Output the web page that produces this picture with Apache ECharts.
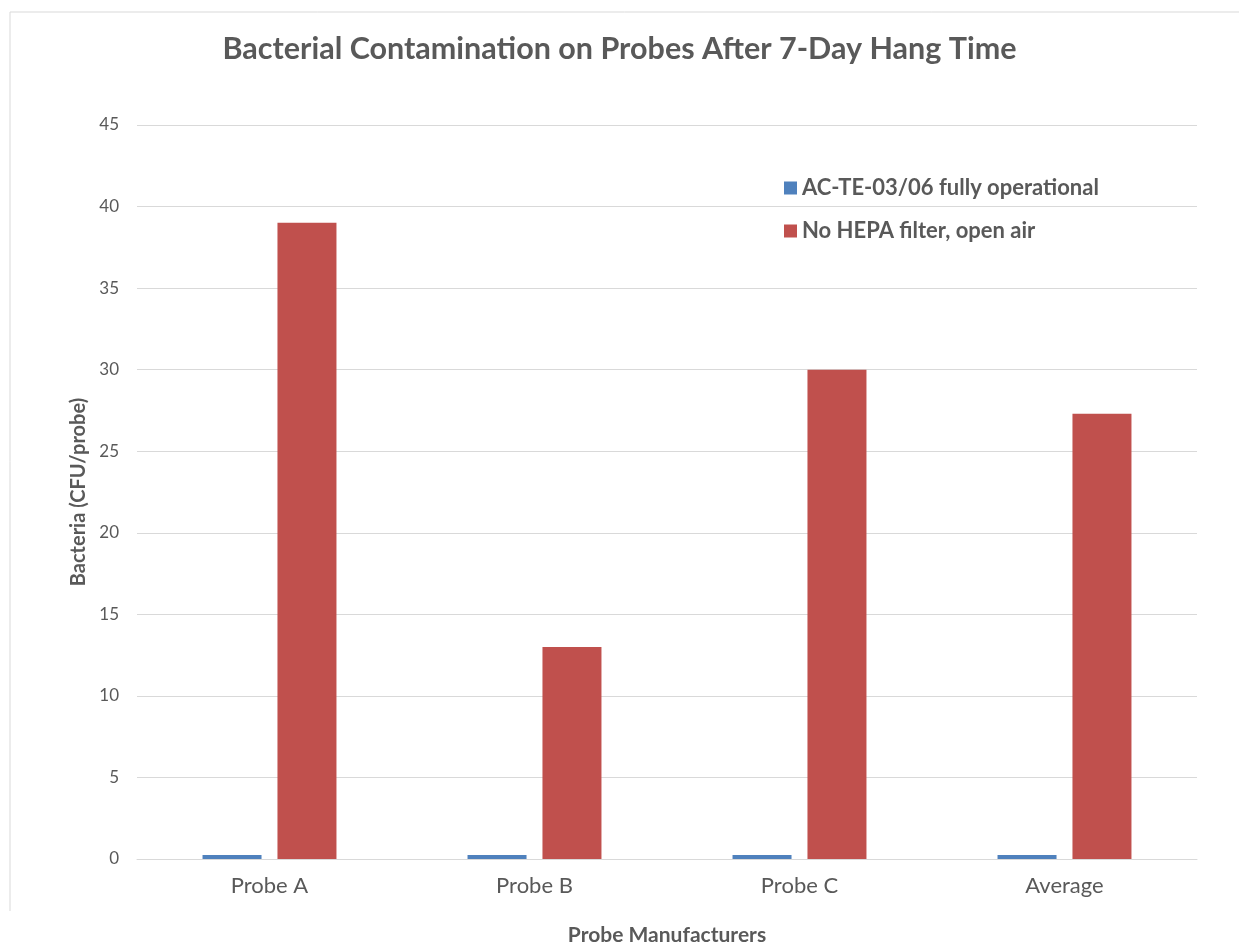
<!DOCTYPE html>
<html>
<head>
<meta charset="utf-8">
<script src="https://cdn.jsdelivr.net/npm/echarts@6/dist/echarts.min.js"></script>
<style>
  html, body { margin: 0; padding: 0; background: #fff; }
  #chart { width: 1239px; height: 945px; }
</style>
</head>
<body>
<div id="chart"></div>
<script>
// Data
const categories = ['Probe A', 'Probe B', 'Probe C', 'Average'];
const seriesNames = ['AC-TE-03/06 fully operational', 'No HEPA filter, open air'];
const operational = [0.25, 0.25, 0.25, 0.25];
const openAir = [39, 13, 30, 27.3];

const ink = '#595959';
const font = 'Lato, "Open Sans", sans-serif';

const chart = echarts.init(document.getElementById('chart'), null, { renderer: 'canvas' });

chart.setOption({
  animation: false,
  backgroundColor: '#fff',
  title: {
    text: 'Bacterial Contamination on Probes After 7-Day Hang Time',
    left: 'center', top: 29,
    textStyle: { color: ink, fontFamily: font, fontSize: 30.5, fontWeight: 'bold' },
  },
  legend: {
    orient: 'vertical',
    left: 779, top: 172,
    itemWidth: 13, itemHeight: 13, itemGap: 21,
    icon: 'rect',
    textStyle: { color: ink, fontFamily: font, fontSize: 22, fontWeight: 'bold' },
    data: seriesNames,
  },
  grid: { left: 137, width: 1060, top: 125, height: 734, outerBoundsMode: 'none' },
  xAxis: {
    type: 'category',
    data: categories,
    name: 'Probe Manufacturers',
    nameLocation: 'middle',
    nameGap: 66,
    nameTextStyle: { color: ink, fontFamily: font, fontSize: 21, fontWeight: 'bold' },
    axisLine: { lineStyle: { color: '#d9d9d9' } },
    axisTick: { show: false },
    axisLabel: { color: ink, fontFamily: font, fontSize: 22, margin: 16 },
  },
  yAxis: {
    type: 'value',
    min: 0, max: 45, interval: 5,
    name: 'Bacteria (CFU/probe)',
    nameLocation: 'middle',
    nameGap: 41,
    nameRotate: 90,
    nameTextStyle: { color: ink, fontFamily: font, fontSize: 20, fontWeight: 'bold' },
    axisLine: { show: false },
    axisTick: { show: false },
    axisLabel: { color: ink, fontFamily: font, fontSize: 17, margin: 18 },
    splitLine: { lineStyle: { color: '#d9d9d9', width: 1 } },
  },
  series: [
    {
      name: seriesNames[0], type: 'bar', data: operational,
      barWidth: 59, barGap: '27%',
      itemStyle: { color: '#4f81bd' },
    },
    {
      name: seriesNames[1], type: 'bar', data: openAir,
      barWidth: 59, barGap: '27%',
      itemStyle: { color: '#c0504d' },
    },
  ],
  graphic: [
    { type: 'line', shape: { x1: 10, y1: 12, x2: 1239, y2: 12 }, style: { stroke: '#d9d9d9', lineWidth: 1 } },
    { type: 'line', shape: { x1: 10, y1: 12, x2: 10, y2: 911 }, style: { stroke: '#d9d9d9', lineWidth: 1 } },
  ],
});
</script>
</body>
</html>
